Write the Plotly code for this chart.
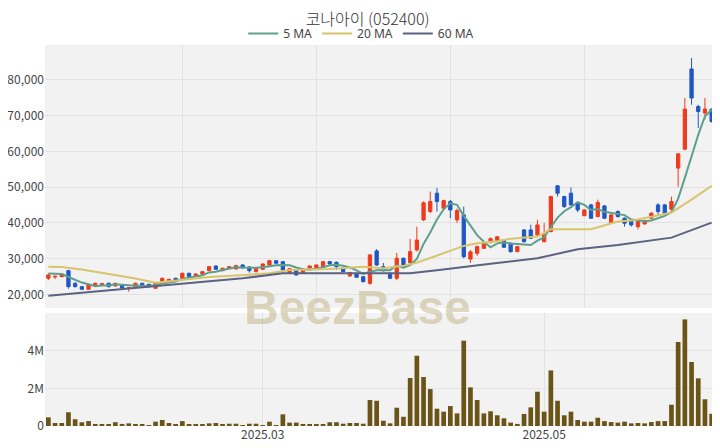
import plotly.graph_objects as go

# ---- data ----
opens = [24530, 24900, 24980, 26660, 23130, 22180, 21450, 22660, 22700, 23130,
         22380, 22660, 21700, 22180, 23130, 22850, 21730, 23580, 23580, 24530,
         24530, 25930, 25170, 25730, 26660, 27970, 26660, 27330, 27130, 28250,
         27690, 26380, 27050, 28250, 29450, 29170, 25930, 26850, 25930, 27410,
         27500, 27610, 29170, 29000, 27330, 25170, 25730, 24980, 23130, 32170,
         27780, 25930, 24530, 30130, 28900, 32450, 40840, 43160, 48300, 44100,
         45960, 40840, 42240, 29900, 31520, 32900, 34500, 35000, 35240, 34320,
         31970, 38040, 38040, 36640, 34770, 37560, 50350, 47350, 48300, 45500,
         42000, 45030, 41770, 44750, 40080, 43160, 41310, 40640, 38960, 39720,
         41310, 45030, 45030, 43830, 55300, 60600, 83000, 72500, 70700, 71800]
closes = [25450, 25100, 25730, 22200, 22180, 21450, 22660, 23130, 23080, 22180,
          23130, 21800, 21900, 23130, 22380, 22180, 23300, 24530, 24250, 23860,
          25930, 24980, 25730, 26380, 27780, 27050, 27330, 27780, 28060, 27410,
          26660, 27500, 28530, 29450, 28730, 26850, 27220, 25450, 27050, 27970,
          28250, 29170, 28530, 27780, 26380, 26100, 24810, 23580, 31050, 28250,
          26660, 24530, 30130, 27780, 31970, 35200, 45600, 45960, 45960, 46240,
          43630, 43440, 30570, 31900, 33370, 34490, 35600, 36100, 33200, 31970,
          33370, 34770, 35720, 39440, 36640, 47350, 48300, 44560, 45030, 43630,
          43630, 41310, 45680, 41310, 42240, 41770, 39910, 39440, 40640, 40640,
          42710, 43160, 42710, 45960, 59300, 71800, 74880, 71100, 71800, 68330]
highs = [25900, 25150, 25800, 26900, 23400, 22400, 22800, 23300, 23200, 23300,
         23300, 22800, 22000, 23300, 23300, 22950, 23500, 24700, 24400, 24700,
         26100, 26100, 25900, 26500, 27900, 28100, 27500, 27950, 28300, 28400,
         27900, 27700, 28700, 29700, 29600, 29300, 27400, 27000, 27200, 28100,
         28400, 29400, 29400, 29200, 27500, 26300, 25900, 25100, 31300, 32700,
         28800, 26100, 31600, 30300, 35500, 38940, 46000, 48750, 49800, 46500,
         46400, 44000, 44560, 32450, 33700, 34700, 35900, 36300, 35500, 34500,
         33600, 38300, 39500, 40840, 40000, 47600, 50500, 47600, 49900, 45800,
         43800, 45300, 46500, 45000, 42500, 43500, 41500, 40900, 40900, 40900,
         43000, 45500, 45300, 47350, 59300, 74880, 86070, 73000, 74880, 71900]
lows = [24000, 24300, 24900, 21600, 22000, 21300, 21400, 22500, 22600, 22000,
        22300, 21600, 20800, 22100, 22200, 22000, 21600, 23400, 23450, 23700,
        24400, 24800, 25000, 25600, 26500, 26900, 26500, 27200, 27000, 27300,
        26100, 26200, 26900, 28100, 28500, 26100, 25800, 25300, 25800, 27300,
        27400, 27500, 28400, 26850, 26200, 25000, 24600, 23400, 22700, 28000,
        26400, 24300, 24000, 27500, 28300, 32000, 40500, 42700, 43160, 43800,
        41300, 40000, 30130, 28800, 30800, 32700, 34300, 34800, 33000, 31700,
        31800, 34500, 35500, 36400, 34500, 37400, 47350, 44200, 44800, 43000,
        42000, 41100, 41600, 41100, 39900, 41500, 38960, 38960, 38200, 39500,
        41100, 42240, 42500, 42710, 50100, 60300, 73000, 66500, 68800, 68000]
volume_m = [0.46, 0.16, 0.16, 0.73, 0.36, 0.20, 0.26, 0.09, 0.09, 0.09,
            0.20, 0.11, 0.14, 0.09, 0.09, 0.05, 0.23, 0.32, 0.16, 0.09,
            0.26, 0.09, 0.09, 0.09, 0.14, 0.16, 0.09, 0.12, 0.12, 0.05,
            0.12, 0.12, 0.05, 0.23, 0.05, 0.62, 0.18, 0.18, 0.09, 0.09,
            0.09, 0.09, 0.20, 0.20, 0.12, 0.16, 0.16, 0.12, 1.38, 1.34,
            0.28, 0.14, 0.97, 0.49, 2.55, 3.73, 2.60, 1.96, 0.92, 0.76,
            1.06, 0.67, 4.53, 2.05, 1.38, 0.67, 0.78, 0.57, 0.41, 0.18,
            0.11, 0.64, 0.99, 1.82, 0.76, 2.95, 1.34, 0.57, 0.76, 0.32,
            0.23, 0.23, 0.44, 0.26, 0.21, 0.18, 0.23, 0.14, 0.16, 0.14,
            0.21, 0.26, 0.26, 1.13, 4.46, 5.66, 3.40, 2.53, 1.42, 0.65]
ma5 = [25900, 25800, 25700, 24900, 24130, 23330, 22840, 22320, 22500, 22500,
       22840, 22660, 22420, 22430, 22470, 22280, 22580, 23100, 23330, 23620,
       24370, 24710, 24950, 25380, 26160, 26380, 26850, 27260, 27600, 27530,
       27450, 27480, 27630, 27910, 28170, 28210, 28160, 27540, 27060, 26910,
       27190, 27580, 28190, 28340, 28020, 27590, 26720, 25730, 26380, 26760,
       26870, 26810, 28120, 27470, 28210, 29920, 34140, 37300, 40940, 43790,
       45480, 45050, 41970, 39160, 36580, 34750, 33190, 34290, 34550, 34270,
       34050, 33880, 33810, 35050, 35990, 38780, 41490, 43260, 44380, 45770,
       45030, 43630, 43860, 43110, 42830, 42460, 42180, 40930, 40800, 40480,
       40670, 41320, 41970, 43040, 46770, 52590, 58930, 64610, 69780, 71580]
ma20_idx = [0, 2, 5, 9, 13, 16, 20, 24, 28, 33, 36, 42, 47, 50, 53, 55, 57,
            60, 62, 64, 67, 69, 73, 75, 81, 85, 87, 90, 93, 96, 99]
ma20_val = [27780, 27700, 27000, 25800, 24500, 23300, 24000, 24900, 25300,
            25930, 26850, 27130, 27780, 27330, 28000, 28900, 30200, 32300,
            33570, 34320, 34900, 35600, 36170, 38240, 38240, 40360, 40640,
            41700, 42880, 46500, 50350]
ma60_idx = [0, 29, 35, 54, 58, 62, 66, 73, 79, 85, 89, 93, 99]
ma60_val = [19660, 24530, 25930, 25930, 26800, 27780, 28600, 30120, 32640,
            33850, 34800, 35890, 40080]
month_tick_idx = [32, 74]
month_tick_text = ["2025.03", "2025.05"]
title_text = "코나아이 (052400)"

x = list(range(len(closes)))
volume = [v * 1e6 for v in volume_m]

FONT = "Noto Sans CJK KR, Noto Sans, sans-serif"
RED = "#ee3b1d"
BLUE = "#1f57c4"
GRID = "#e2e2e2"

fig = go.Figure()
fig.add_trace(go.Candlestick(
    x=x, open=opens, high=highs, low=lows, close=closes,
    increasing=dict(line=dict(color=RED, width=1), fillcolor=RED),
    decreasing=dict(line=dict(color=BLUE, width=1), fillcolor=BLUE),
    whiskerwidth=0, showlegend=False, xaxis="x", yaxis="y"))
fig.add_trace(go.Scatter(x=x, y=ma5, mode="lines", name="5 MA",
                         line=dict(color="#5e9f8c", width=2), xaxis="x", yaxis="y"))
fig.add_trace(go.Scatter(x=ma20_idx, y=ma20_val, mode="lines", name="20 MA",
                         line=dict(color="#d8c46c", width=2), xaxis="x", yaxis="y"))
fig.add_trace(go.Scatter(x=ma60_idx, y=ma60_val, mode="lines", name="60 MA",
                         line=dict(color="#5b6282", width=2), xaxis="x", yaxis="y"))
fig.add_trace(go.Bar(x=x, y=volume, marker=dict(color="#6b5418", line=dict(width=0)),
                     showlegend=False, xaxis="x2", yaxis="y2"))

n = len(closes)
# the page body adds an 8px offset, so the figure is 712x440
fig.update_layout(
    width=712, height=440,
    margin=dict(l=37, r=5, t=37, b=22, autoexpand=False),
    paper_bgcolor="white", plot_bgcolor="#f2f2f2",
    font=dict(family=FONT, color="#444", size=12),
    title=dict(text=title_text, x=0.505, xanchor="center", y=0.975, yanchor="middle",
               font=dict(size=16, color="#333", family=FONT, weight=300)),
    legend=dict(orientation="h", x=0.472, xanchor="center", y=1.03, yanchor="middle",
                font=dict(size=12, color="#444", family="Noto Sans, sans-serif"),
                bgcolor="rgba(0,0,0,0)"),
    bargap=0.3,
    xaxis=dict(domain=[0, 1], range=[-0.5, n - 0.5], tickvals=[20, 40, 60, 80],
               showticklabels=False, gridcolor=GRID, zeroline=False, automargin=False,
               rangeslider=dict(visible=False), anchor="y"),
    yaxis=dict(domain=[0.3097, 1], range=[16230, 89690], dtick=10000,
               tickformat=",", gridcolor=GRID, zeroline=False, anchor="x",
               automargin=False, ticks="", tickfont=dict(size=12)),
    xaxis2=dict(domain=[0, 1], range=[-0.5, n - 0.5], tickvals=month_tick_idx,
                ticktext=month_tick_text, gridcolor=GRID, zeroline=False,
                automargin=False, anchor="y2", matches="x", tickfont=dict(size=12)),
    yaxis2=dict(domain=[0, 0.2966], range=[0, 6.0e6], tickvals=[0, 2e6, 4e6],
                ticktext=["0", "2M", "4M"], gridcolor=GRID, zeroline=False,
                automargin=False, anchor="x2", tickfont=dict(size=12)),
    annotations=[dict(text="<b>BeezBase</b>", x=0.466, y=0.311, xref="paper", yref="paper",
                      xanchor="center", yanchor="middle", showarrow=False,
                      font=dict(size=48, color="rgba(190,178,130,0.5)",
                            family="Liberation Sans, Arial, sans-serif"))],
)

fig.write_html("out.html")
